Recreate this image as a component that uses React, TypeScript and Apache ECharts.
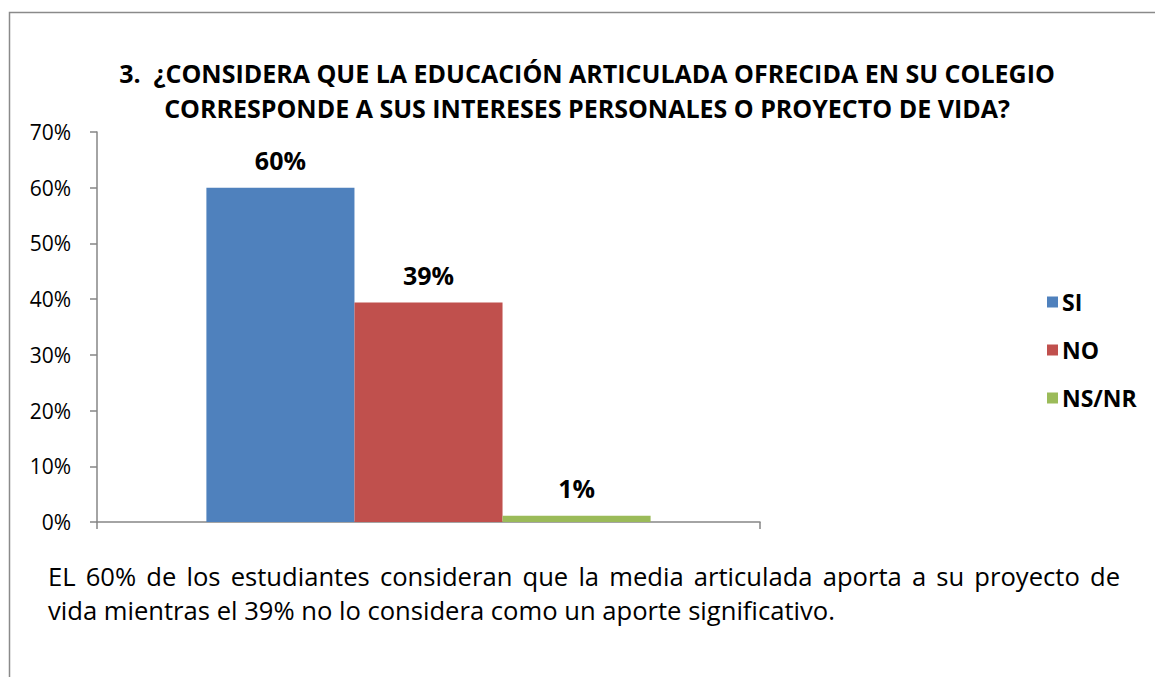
import React, { useEffect, useRef } from "react";
import * as echarts from "echarts";

const title = ["3.  ¿CONSIDERA QUE LA EDUCACIÓN ARTICULADA OFRECIDA EN SU COLEGIO", "CORRESPONDE A SUS INTERESES PERSONALES O PROYECTO DE VIDA?"];
const seriesNames = ["SI", "NO", "NS/NR"];
const seriesValues = [60, 39.4, 1.1];
const seriesLabels = ["60%", "39%", "1%"];
const colors = ["#4F81BD", "#C0504D", "#9BBB59"];
const yTicks = { min: 0, max: 70, interval: 10 };
const noteLine1 = "EL 60% de los estudiantes consideran que la media articulada aporta a su proyecto de";
const noteLine2 = "vida mientras el 39% no lo considera como un aporte significativo.";

const FONT = "'Open Sans', Lato, sans-serif";

function justifiedWords(text: string, font: string, x0: number, x1: number) {
  const words = text.split(" ");
  const c = document.createElement("canvas").getContext("2d")!;
  c.font = font;
  const widths = words.map((w) => c.measureText(w).width);
  const total = widths.reduce((a, b) => a + b, 0);
  const gap = (x1 - x0 - total) / (words.length - 1);
  let x = x0;
  return words.map((w, i) => {
    const r = { w, x };
    x += widths[i] + gap;
    return r;
  });
}

export default function App() {
  const ref = useRef<HTMLDivElement>(null);
  useEffect(() => {
    const chart = echarts.init(ref.current!, undefined, { renderer: "svg" });
    const noteFontSize = 25.6;
    const words = justifiedWords(noteLine1, `400 ${noteFontSize}px 'Open Sans'`, 48, 1120);
    chart.setOption({
      animation: false,
      textStyle: { fontFamily: FONT },
      grid: { left: 97, top: 132, right: 395, bottom: 155 },
      legend: {
        orient: "vertical",
        left: 1042,
        top: 284,
        icon: "rect",
        itemWidth: 11,
        itemHeight: 11,
        itemGap: 22,
        itemStyle: { borderWidth: 0 },
        data: seriesNames,
        textStyle: { fontSize: 23, fontWeight: "bold", color: "#000", fontFamily: FONT, lineHeight: 26, padding: [0, 0, 0, -1] },
      },
      xAxis: {
        type: "category",
        data: [""],
        axisLine: { lineStyle: { color: "#868686", width: 1.5 } },
        axisTick: { show: true, length: 7, lineStyle: { color: "#868686", width: 1.5 } },
        axisLabel: { show: false },
      },
      yAxis: {
        type: "value",
        min: yTicks.min,
        max: yTicks.max,
        interval: yTicks.interval,
        splitLine: { show: false },
        axisLine: { show: true, lineStyle: { color: "#868686", width: 1.5 } },
        axisTick: { show: true, length: 7, lineStyle: { color: "#868686", width: 1.5 } },
        axisLabel: { formatter: "{value}%", fontSize: 21, color: "#000", margin: 26, fontFamily: FONT },
      },
      series: seriesNames.map((name, i) => ({
        name,
        type: "bar",
        data: [seriesValues[i]],
        barGap: 0,
        barCategoryGap: "33%",
        itemStyle: { color: colors[i] },
        label: {
          show: true,
          position: "top",
          distance: 15,
          formatter: () => seriesLabels[i],
          fontSize: 25,
          fontWeight: "bold",
          color: "#000",
          fontFamily: FONT,
        },
      })),
      graphic: [
        {
          type: "rect",
          silent: true,
          shape: { x: 9.5, y: 12.5, width: 1300, height: 800 },
          style: { fill: "none", stroke: "#8a8a8a", lineWidth: 1.5 },
        },
        ...title.map((t, i) => ({
          type: "text",
          x: 587,
          y: 73 + i * 35,
          style: {
            text: t,
            fontSize: 25,
            fontWeight: "bold",
            fontFamily: FONT,
            fill: "#000",
            textAlign: "center",
            textVerticalAlign: "middle",
          },
        })),
        ...words.map((wd) => ({
          type: "text",
          x: wd.x,
          y: 576,
          style: {
            text: wd.w,
            fontSize: noteFontSize,
            fontFamily: FONT,
            fill: "#000",
            textAlign: "left",
            textVerticalAlign: "middle",
          },
        })),
        {
          type: "text",
          x: 48,
          y: 610,
          style: {
            text: noteLine2,
            fontSize: noteFontSize,
            fontFamily: FONT,
            fill: "#000",
            textAlign: "left",
            textVerticalAlign: "middle",
          },
        },
      ],
    });
    return () => chart.dispose();
  }, []);
  return (
    <div
      ref={ref}
      style={{ position: "absolute", left: 0, top: 0, width: 1155, height: 677, background: "#fff" }}
    />
  );
}
